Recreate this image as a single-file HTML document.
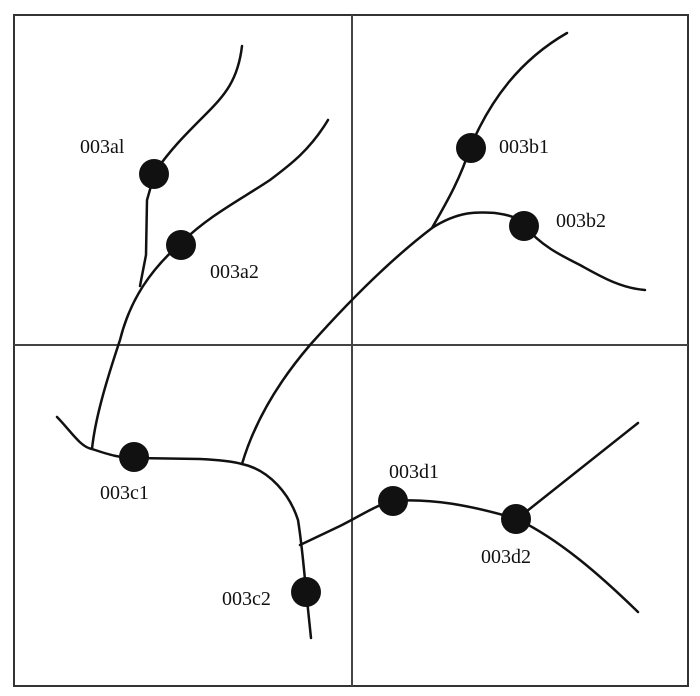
<!DOCTYPE html>
<html><head><meta charset="utf-8"><style>
html,body{margin:0;padding:0;background:#fff;}
svg{display:block;}
text{font-family:"Liberation Serif",serif;font-size:20px;fill:#111;}
</style></head><body>
<svg width="700" height="696" viewBox="0 0 700 696" xmlns="http://www.w3.org/2000/svg">
<rect x="14" y="15" width="674" height="671" fill="none" stroke="#333" stroke-width="2"/>
<line x1="352" y1="15" x2="352" y2="686" stroke="#444" stroke-width="2"/>
<line x1="14" y1="345" x2="688" y2="345" stroke="#444" stroke-width="2"/>
<g fill="none" stroke="#111" stroke-width="2.5" stroke-linecap="round">
<path d="M242 46 C238 80 225 95 205 115 C185 135 170 150 155 172 L147 200 L146 255 L140 286"/>
<path d="M328 120 C310 150 290 165 270 180 C240 200 210 215 182 242 C150 270 130 300 120 340 C105 385 95 420 92 449"/>
<path d="M57 417 C70 430 80 447 92 449 C110 455 120 458 135 458 L200 459 C220 460 235 462 242 464"/>
<path d="M242 464 C255 420 280 380 310 345 C350 300 390 260 432 228 C460 210 480 212 495 213 C510 215 520 218 525 226 C540 245 560 255 580 265 C600 276 620 288 645 290"/>
<path d="M432 228 C445 205 460 180 470 148 C490 100 520 60 567 33"/>
<path d="M242 464 C270 470 290 495 298 520 C302 545 304 570 306 590 L311 638"/>
<path d="M300 545 L340 526 C360 516 380 503 393 501 C430 498 470 505 517 519 L638 423"/>
<path d="M517 519 C560 540 600 575 638 612"/>
</g>
<g fill="#111">
<circle cx="154" cy="174" r="15"/>
<circle cx="181" cy="245" r="15"/>
<circle cx="471" cy="148" r="15"/>
<circle cx="524" cy="226" r="15"/>
<circle cx="134" cy="457" r="15"/>
<circle cx="393" cy="501" r="15"/>
<circle cx="516" cy="519" r="15"/>
<circle cx="306" cy="592" r="15"/>
</g>
<text x="80" y="153">003al</text>
<text x="210" y="278">003a2</text>
<text x="499" y="153">003b1</text>
<text x="556" y="227">003b2</text>
<text x="100" y="499">003c1</text>
<text x="389" y="478">003d1</text>
<text x="481" y="563">003d2</text>
<text x="222" y="605">003c2</text>
</svg>
</body></html>
